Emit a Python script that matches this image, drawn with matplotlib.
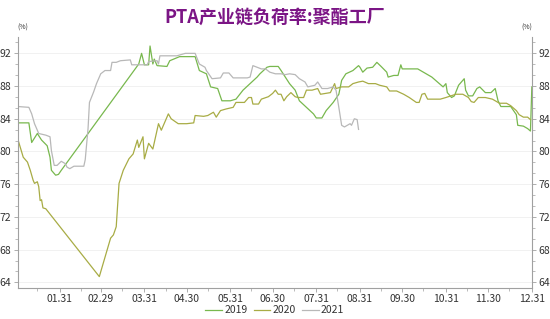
import matplotlib
matplotlib.use("Agg")
import matplotlib.pyplot as plt
import matplotlib.dates as mdates
from matplotlib.ticker import MultipleLocator
import pandas as pd

plt.rcParams['font.family'] = ['Noto Sans CJK SC', 'DejaVu Sans']

# ---- data (month-day, load rate %) ----
dates_2019 = ["01-01", "01-09", "01-11", "01-15", "01-18", "01-22", "01-24", "01-25", "01-28", "01-30",
              "02-01", "03-27", "03-29", "03-31", "04-03", "04-04", "04-06", "04-07", "04-09", "04-16",
              "04-18", "04-25", "05-06", "05-09", "05-14", "05-17", "05-22", "05-25", "05-31", "06-04",
              "06-09", "06-14", "06-19", "06-21", "06-26", "06-28", "07-04", "07-06", "07-09", "07-12",
              "07-16", "07-19", "07-24", "07-29", "07-31", "08-04", "08-07", "08-12", "08-16", "08-18",
              "08-21", "08-26", "08-30", "08-31", "09-02", "09-05", "09-09", "09-12", "09-15", "09-19",
              "09-20", "09-24", "09-27", "09-29", "09-30", "10-05", "10-11", "10-15", "10-21", "10-25",
              "10-29", "10-31", "11-01", "11-04", "11-06", "11-09", "11-13", "11-14", "11-16", "11-19",
              "11-22", "11-24", "11-28", "12-02", "12-05", "12-07", "12-09", "12-16", "12-20", "12-21",
              "12-25", "12-28", "12-30", "12-31"]
vals_2019 = [83.5, 83.5, 81.1, 82.2, 81.4, 80.7, 79.3, 77.7, 77.1, 77.2,
             77.7, 90.7, 92.0, 90.6, 90.6, 92.9, 90.7, 91.3, 90.5, 90.4,
             91.1, 91.6, 91.6, 89.9, 89.5, 87.9, 87.7, 86.2, 86.2, 86.4,
             87.5, 88.3, 89.1, 89.5, 90.3, 90.4, 90.4, 89.9, 89.1, 88.3,
             87.5, 86.2, 85.4, 84.6, 84.1, 84.1, 85.0, 86.0, 87.0, 88.7,
             89.5, 89.9, 90.5, 90.3, 89.7, 90.2, 90.3, 90.9, 90.4, 89.7,
             89.1, 89.3, 89.3, 90.6, 90.1, 90.1, 90.1, 89.7, 89.1, 88.5,
             87.9, 88.3, 87.2, 86.6, 86.8, 88.1, 88.9, 87.5, 86.8, 86.8,
             87.7, 87.9, 87.2, 87.2, 87.7, 86.2, 85.5, 85.5, 84.5, 83.2,
             83.1, 82.8, 82.5, 87.9]

dates_2020 = ["01-01", "01-05", "01-08", "01-10", "01-12", "01-13", "01-15", "01-16", "01-17", "01-18",
              "01-19", "01-21", "02-28", "03-07", "03-09", "03-11", "03-13", "03-16", "03-20", "03-23",
              "03-26", "03-27", "03-30", "03-31", "04-03", "04-06", "04-10", "04-12", "04-17", "04-19",
              "04-24", "04-30", "05-05", "05-06", "05-12", "05-15", "05-19", "05-21", "05-24", "05-28",
              "06-02", "06-04", "06-10", "06-13", "06-15", "06-16", "06-20", "06-22", "06-27", "06-30",
              "07-02", "07-04", "07-06", "07-08", "07-10", "07-13", "07-16", "07-18", "07-22", "07-24",
              "07-28", "08-01", "08-03", "08-10", "08-13", "08-14", "08-18", "08-23", "08-26", "08-30",
              "09-02", "09-06", "09-11", "09-14", "09-19", "09-21", "09-26", "10-01", "10-05", "10-10",
              "10-12", "10-14", "10-16", "10-18", "10-27", "10-31", "11-07", "11-12", "11-16", "11-18",
              "11-20", "11-23", "11-28", "12-03", "12-06", "12-08", "12-13", "12-16", "12-20", "12-22",
              "12-25", "12-28", "12-30"]
vals_2020 = [81.6, 79.3, 78.7, 77.7, 76.5, 76.1, 76.3, 75.7, 74.0, 74.1,
             73.1, 73.0, 64.7, 69.4, 69.8, 70.8, 76.1, 77.7, 79.1, 79.7,
             81.4, 80.5, 81.8, 79.1, 81.0, 80.3, 83.4, 82.6, 84.6, 84.0,
             83.4, 83.4, 83.5, 84.4, 84.3, 84.4, 84.8, 84.2, 85.0, 85.2,
             85.4, 86.0, 86.0, 86.6, 86.6, 85.8, 85.8, 86.4, 86.7, 87.1,
             87.5, 87.0, 87.0, 86.2, 86.7, 87.2, 86.7, 86.6, 86.6, 87.5,
             87.5, 87.7, 87.0, 87.2, 88.3, 87.7, 87.9, 87.9, 88.3, 88.5,
             88.6, 88.3, 88.3, 88.1, 87.9, 87.4, 87.4, 87.0, 86.6, 86.0,
             86.0, 87.0, 87.1, 86.4, 86.4, 86.6, 87.0, 87.0, 86.6, 86.1,
             86.0, 86.6, 86.6, 86.4, 86.1, 85.9, 85.9, 85.6, 85.0, 84.5,
             84.2, 84.2, 83.9]

dates_2021 = ["01-01", "01-09", "01-11", "01-13", "01-16", "01-21", "01-24", "01-25", "01-27", "01-29",
              "02-01", "02-04", "02-05", "02-07", "02-10", "02-17", "02-18", "02-20", "02-21", "02-24",
              "02-26", "02-29", "03-03", "03-07", "03-08", "03-11", "03-14", "03-21", "03-22", "03-28",
              "04-02", "04-03", "04-09", "04-10", "04-11", "04-23", "04-29", "05-06", "05-09", "05-13",
              "05-14", "05-18", "05-24", "05-26", "05-30", "06-02", "06-12", "06-14", "06-16", "06-22",
              "06-25", "06-28", "07-02", "07-06", "07-09", "07-12", "07-16", "07-19", "07-23", "07-25",
              "07-30", "08-01", "08-04", "08-08", "08-12", "08-14", "08-16", "08-18", "08-20", "08-24",
              "08-25", "08-27", "08-29", "08-30"]
vals_2021 = [85.5, 85.4, 84.6, 83.4, 82.2, 82.0, 81.8, 80.1, 78.3, 78.3,
             78.8, 78.5, 78.1, 77.9, 78.2, 78.2, 79.0, 82.8, 86.0, 87.3,
             88.3, 89.5, 89.9, 89.9, 90.9, 90.9, 91.1, 91.2, 90.6, 90.6,
             90.6, 91.0, 91.1, 90.7, 91.7, 91.7, 92.0, 92.0, 90.7, 90.3,
             89.9, 88.9, 89.0, 89.6, 89.6, 89.0, 89.0, 89.1, 90.5, 90.1,
             90.1, 89.7, 89.5, 89.5, 89.4, 89.5, 89.4, 88.9, 88.5, 87.9,
             88.1, 88.5, 87.7, 87.7, 87.9, 87.5, 85.4, 83.2, 83.0, 83.4,
             83.2, 84.0, 83.9, 82.7]

series = [("2019", dates_2019, vals_2019, "#78B84E"),
          ("2020", dates_2020, vals_2020, "#A8AC45"),
          ("2021", dates_2021, vals_2021, "#B8B8B8")]

fig = plt.figure(figsize=(5.5, 3.19), dpi=100)
ax = fig.add_axes([0.032, 0.097, 0.935, 0.787])

for name, d, v, c in series:
    x = pd.to_datetime(["2020-" + s for s in d])
    ax.plot(x, v, color=c, lw=0.9, label=name)

ax.set_xlim(pd.Timestamp("2020-01-01"), pd.Timestamp("2020-12-31"))
ax.set_ylim(63.3, 94.0)

month_ends = pd.to_datetime(["2020-01-31", "2020-02-29", "2020-03-31", "2020-04-30", "2020-05-31",
                             "2020-06-30", "2020-07-31", "2020-08-31", "2020-09-30", "2020-10-31",
                             "2020-11-30", "2020-12-31"])
ax.set_xticks(month_ends)
ax.xaxis.set_major_formatter(mdates.DateFormatter("%m.%d"))
ax.xaxis.set_minor_locator(mdates.DayLocator(bymonthday=15))
ax.set_yticks(range(64, 93, 4))
ax.yaxis.set_minor_locator(MultipleLocator(4 / 3))

ax.grid(axis="y", color="#efefef", lw=0.6)
ax.set_axisbelow(True)

for s in ["left", "right", "bottom"]:
    ax.spines[s].set_color("#a0a0a0")
    ax.spines[s].set_linewidth(0.8)
ax.spines["top"].set_visible(False)

ax.tick_params(axis="both", which="major", labelsize=7.5, colors="#a0a0a0", labelcolor="#333333",
               length=3, width=0.6, pad=1.5)
ax.tick_params(axis="both", which="minor", colors="#a0a0a0", length=2, width=0.5)
ax.tick_params(axis="y", which="both", left=True, right=True, labelleft=True, labelright=True)

ax.text(0.0, 1.02, "(%)", transform=ax.transAxes, fontsize=5, color="#333333", ha="left", va="bottom")
ax.text(1.0, 1.02, "(%)", transform=ax.transAxes, fontsize=5, color="#333333", ha="right", va="bottom")

fig.text(0.5, 0.945, "PTA产业链负荷率:聚酯工厂", ha="center", va="center", fontsize=13,
         fontweight="bold", color="#7B1585")

ax.legend(loc="center", bbox_to_anchor=(0.5, -0.088), ncol=3, frameon=False, fontsize=7.5,
          handlelength=1.6, handletextpad=0.2, columnspacing=0.6, labelcolor="#333333",
          borderpad=0.1)

fig.savefig("out.png", dpi=100)
